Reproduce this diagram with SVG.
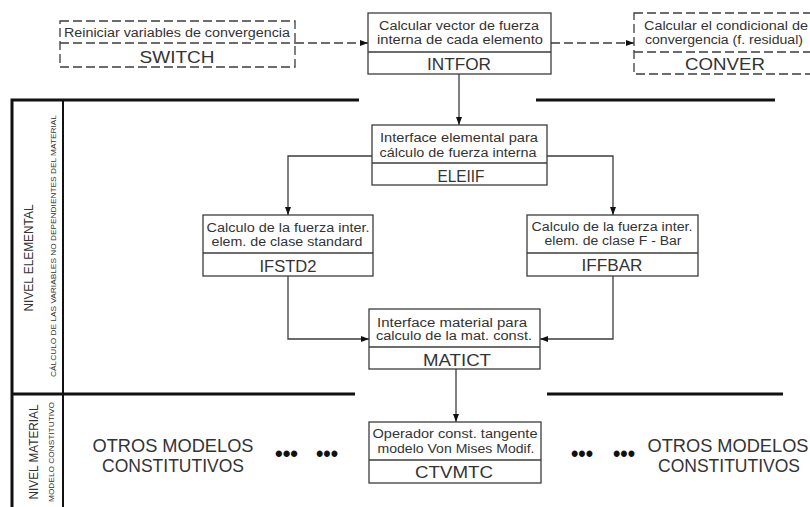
<svg xmlns="http://www.w3.org/2000/svg" width="810" height="507" viewBox="0 0 810 507">
  <style>
    .box { fill: #ffffff; stroke: #3c3c3c; stroke-width: 1.3; }
    .dbox { fill: #ffffff; stroke: #3c3c3c; stroke-width: 1.3; stroke-dasharray: 9 4; }
    .div { stroke: #3c3c3c; stroke-width: 1.3; }
    .ddiv { stroke: #3c3c3c; stroke-width: 1.3; stroke-dasharray: 9 4; }
    .t { font-family: "Liberation Sans", Arial, sans-serif; font-size: 12.5px; fill: #333; text-anchor: middle; }
    .n { font-family: "Liberation Sans", Arial, sans-serif; font-size: 17px; fill: #333; text-anchor: middle; }
    .big { font-family: "Liberation Sans", Arial, sans-serif; font-size: 18px; fill: #333; text-anchor: middle; }
    .side { font-family: "Liberation Sans", Arial, sans-serif; font-size: 13px; fill: #333; text-anchor: middle; }
    .sub { font-family: "Liberation Sans", Arial, sans-serif; font-size: 7.5px; fill: #333; text-anchor: middle; }
    .dots { font-family: "Liberation Sans", Arial, sans-serif; font-size: 22px; fill: #111; font-weight: bold; }
    .conn { fill: none; stroke: #3c3c3c; stroke-width: 1.3; }
    .dconn { fill: none; stroke: #3c3c3c; stroke-width: 1.3; stroke-dasharray: 9 4; }
    .frame { stroke: #111; stroke-width: 3; fill: none; }
    .frame2 { stroke: #111; stroke-width: 2; fill: none; }
  </style>
  <defs>
    <marker id="arrow" viewBox="0 0 8 6" refX="8" refY="3" markerWidth="8" markerHeight="6" markerUnits="userSpaceOnUse" orient="auto">
      <path d="M0,0 L8,3 L0,6 Z" fill="#111"/>
    </marker>
  </defs>

  <rect width="810" height="507" fill="#ffffff"/>

  <!-- level frame -->
  <g id="frame">
    <path class="frame" d="M12,507 L12,100 L359,100"/>
    <path class="frame" d="M536,100 L775,100"/>
    <path class="frame2" d="M63,100 L63,507"/>
    <path class="frame" d="M12,394 L355,394"/>
    <path class="frame" d="M547,394 L783,394"/>
    <text class="side" transform="translate(33,258) rotate(-90)" textLength="107" lengthAdjust="spacingAndGlyphs">NIVEL ELEMENTAL</text>
    <text class="sub" transform="translate(56,246) rotate(-90)" textLength="262" lengthAdjust="spacingAndGlyphs">CÁLCULO DE LAS VARIABLES NO DEPENDIENTES DEL MATERIAL</text>
    <text class="side" transform="translate(38,452) rotate(-90)" textLength="95" lengthAdjust="spacingAndGlyphs">NIVEL MATERIAL</text>
    <text class="sub" transform="translate(54,452) rotate(-90)" textLength="100" lengthAdjust="spacingAndGlyphs">MODELO CONSTITUTIVO</text>
  </g>

  <!-- connectors -->
  <g id="connectors">
    <path class="dconn" d="M295,43 L368,43" marker-end="url(#arrow)"/>
    <path class="dconn" d="M551,43 L634,43" marker-end="url(#arrow)"/>
    <path class="conn" d="M459,74 L459,125" marker-end="url(#arrow)"/>
    <path class="conn" d="M372,156 L288,156 L288,215" marker-end="url(#arrow)"/>
    <path class="conn" d="M547,156 L613,156 L613,215" marker-end="url(#arrow)"/>
    <path class="conn" d="M288,276 L288,339 L369,339" marker-end="url(#arrow)"/>
    <path class="conn" d="M613,276 L613,339 L540,339" marker-end="url(#arrow)"/>
    <path class="conn" d="M456,369 L456,422" marker-end="url(#arrow)"/>
  </g>

  <g id="switch">
    <rect class="dbox" x="60" y="21" width="235" height="46"/>
    <line class="ddiv" x1="60" y1="43" x2="295" y2="43"/>
    <text class="t" x="177" y="37" textLength="226" lengthAdjust="spacingAndGlyphs">Reiniciar variables de convergencia</text>
    <text class="n" x="177" y="63" textLength="75" lengthAdjust="spacingAndGlyphs">SWITCH</text>
  </g>

  <g id="intfor">
    <rect class="box" x="368" y="13" width="183" height="61"/>
    <line class="div" x1="368" y1="52" x2="551" y2="52"/>
    <text class="t" x="459" y="30" textLength="160" lengthAdjust="spacingAndGlyphs">Calcular vector de fuerza</text>
    <text class="t" x="460" y="44" textLength="166" lengthAdjust="spacingAndGlyphs">interna de cada elemento</text>
    <text class="n" x="459" y="70" textLength="64" lengthAdjust="spacingAndGlyphs">INTFOR</text>
  </g>

  <g id="conver">
    <rect class="dbox" x="634" y="13" width="183" height="61"/>
    <line class="ddiv" x1="634" y1="52" x2="817" y2="52"/>
    <text class="t" x="726" y="30" textLength="164" lengthAdjust="spacingAndGlyphs">Calcular el condicional de</text>
    <text class="t" x="724" y="44" textLength="158" lengthAdjust="spacingAndGlyphs">convergencia (f. residual)</text>
    <text class="n" x="725" y="70" textLength="80" lengthAdjust="spacingAndGlyphs">CONVER</text>
  </g>

  <g id="eleiif">
    <rect class="box" x="372" y="125" width="175" height="60"/>
    <line class="div" x1="372" y1="163" x2="547" y2="163"/>
    <text class="t" x="459" y="142" textLength="158" lengthAdjust="spacingAndGlyphs">Interface elemental para</text>
    <text class="t" x="458" y="157" textLength="157" lengthAdjust="spacingAndGlyphs">cálculo de fuerza interna</text>
    <text class="n" x="461" y="182" textLength="47" lengthAdjust="spacingAndGlyphs">ELEIIF</text>
  </g>

  <g id="ifstd2">
    <rect class="box" x="203" y="215" width="170" height="61"/>
    <line class="div" x1="203" y1="253" x2="373" y2="253"/>
    <text class="t" x="288" y="232" textLength="163" lengthAdjust="spacingAndGlyphs">Calculo de la fuerza inter.</text>
    <text class="t" x="287" y="246" textLength="151" lengthAdjust="spacingAndGlyphs">elem. de clase standard</text>
    <text class="n" x="288" y="272" textLength="57" lengthAdjust="spacingAndGlyphs">IFSTD2</text>
  </g>

  <g id="iffbar">
    <rect class="box" x="527" y="215" width="171" height="61"/>
    <line class="div" x1="527" y1="253" x2="698" y2="253"/>
    <text class="t" x="612" y="231" textLength="161" lengthAdjust="spacingAndGlyphs">Calculo de la fuerza inter.</text>
    <text class="t" x="613" y="245" textLength="137" lengthAdjust="spacingAndGlyphs">elem. de clase F - Bar</text>
    <text class="n" x="612" y="271" textLength="61" lengthAdjust="spacingAndGlyphs">IFFBAR</text>
  </g>

  <g id="matict">
    <rect class="box" x="369" y="309" width="171" height="60"/>
    <line class="div" x1="369" y1="347" x2="540" y2="347"/>
    <text class="t" x="452" y="327" textLength="150" lengthAdjust="spacingAndGlyphs">Interface material  para</text>
    <text class="t" x="454" y="340" textLength="156" lengthAdjust="spacingAndGlyphs">calculo de la mat. const.</text>
    <text class="n" x="457" y="366" textLength="68" lengthAdjust="spacingAndGlyphs">MATICT</text>
  </g>

  <g id="ctvmtc">
    <rect class="box" x="369" y="422" width="172" height="61"/>
    <line class="div" x1="369" y1="460" x2="541" y2="460"/>
    <text class="t" x="455" y="438" textLength="165" lengthAdjust="spacingAndGlyphs">Operador const. tangente</text>
    <text class="t" x="456" y="453" textLength="157" lengthAdjust="spacingAndGlyphs">modelo Von Mises Modif.</text>
    <text class="n" x="454" y="478" textLength="78" lengthAdjust="spacingAndGlyphs">CTVMTC</text>
  </g>

  <g id="otros-left">
    <text class="big" x="173" y="452" textLength="161" lengthAdjust="spacingAndGlyphs">OTROS MODELOS</text>
    <text class="big" x="173" y="472" textLength="142" lengthAdjust="spacingAndGlyphs">CONSTITUTIVOS</text>
    <text class="dots" x="275" y="461" textLength="23" lengthAdjust="spacingAndGlyphs">•••</text>
    <text class="dots" x="316" y="461" textLength="22" lengthAdjust="spacingAndGlyphs">•••</text>
  </g>

  <g id="otros-right">
    <text class="dots" x="571" y="461" textLength="22" lengthAdjust="spacingAndGlyphs">•••</text>
    <text class="dots" x="613" y="461" textLength="22" lengthAdjust="spacingAndGlyphs">•••</text>
    <text class="big" x="728" y="452" textLength="161" lengthAdjust="spacingAndGlyphs">OTROS MODELOS</text>
    <text class="big" x="729" y="472" textLength="142" lengthAdjust="spacingAndGlyphs">CONSTITUTIVOS</text>
  </g>
</svg>
